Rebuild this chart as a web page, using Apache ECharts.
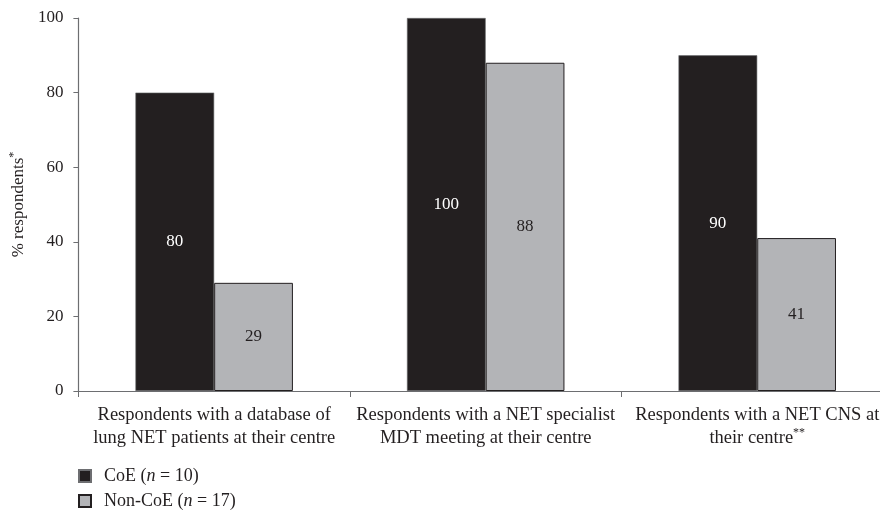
<!DOCTYPE html>
<html><head><meta charset="utf-8">
<script src="https://cdn.jsdelivr.net/npm/echarts@6/dist/echarts.min.js"></script>
<style>html,body{margin:0;padding:0;background:#fff;overflow:hidden;width:880px;height:513px}#c{width:893px;height:513px}</style>
</head><body><div id="c"></div>
<script>
const categories = [
  "Respondents with a database of\nlung NET patients at their centre",
  "Respondents with a NET specialist\nMDT meeting at their centre",
  "Respondents with a NET CNS at\ntheir centre{sup|**}"
];
const seriesNames = ["CoE (n = 10)", "Non-CoE (n = 17)"];
const coeValues = [80, 100, 90];
const nonCoeValues = [29, 88, 41];
const yTicks = [0, 20, 40, 60, 80, 100];

const FONT = '"Liberation Serif","DejaVu Serif",serif';
const TXT = '#231f20';
const AX = '#6d6e71';

const chart = echarts.init(document.getElementById('c'), null, {renderer: 'canvas'});
chart.setOption({
  animation: false,
  textStyle: {fontFamily: FONT, color: TXT},
  grid: {left: 78, right: 0, top: 18, bottom: 122, containLabel: false},
  legend: {
    orient: 'vertical', left: 78, top: 467, itemGap: 7, padding: 0,
    itemWidth: 12, itemHeight: 12, icon: 'rect',
    formatter: function (name) {
      const m = name.match(/^(.*\()n( = \d+\))$/);
      return '{a|' + m[1] + '}{i|n}{a|' + m[2] + '}';
    },
    textStyle: {
      fontFamily: FONT, color: TXT, fontSize: 18, padding: [0, 0, 0, 8],
      rich: {
        a: {fontFamily: FONT, color: TXT, fontSize: 18, lineHeight: 19},
        i: {fontFamily: FONT, color: TXT, fontSize: 18, lineHeight: 19, fontStyle: 'italic'}
      }
    }
  },
  xAxis: {
    type: 'category', data: categories,
    axisLine: {lineStyle: {color: AX, width: 1.2}},
    axisTick: {show: true, length: 6, lineStyle: {color: AX}},
    axisLabel: {
      interval: 0, margin: 13, fontFamily: FONT, color: TXT, fontSize: 18.5, lineHeight: 23,
      align: 'center',
      rich: {sup: {fontFamily: FONT, color: TXT, fontSize: 12, lineHeight: 23, verticalAlign: 'top', padding: [0, 0, 8, 0]}}
    }
  },
  yAxis: {
    type: 'value', min: 0, max: 100, interval: 20,
    name: '{a|% respondents}{s|*}', nameLocation: 'middle', nameGap: 42, nameRotate: 90,
    nameTextStyle: {
      fontFamily: FONT, color: TXT, fontSize: 17,
      rich: {
        a: {fontFamily: FONT, color: TXT, fontSize: 17},
        s: {fontFamily: FONT, color: TXT, fontSize: 12, padding: [0, 0, 9, 0]}
      }
    },
    axisLine: {show: true, lineStyle: {color: AX, width: 1.2}},
    axisTick: {show: true, length: 5, lineStyle: {color: AX}},
    splitLine: {show: false},
    axisLabel: {
      margin: 15, fontFamily: FONT, color: TXT, fontSize: 17,
      formatter: function (v) { return yTicks.indexOf(v) >= 0 ? String(v) : ''; }
    }
  },
  series: [
    {
      name: seriesNames[0], type: 'bar', data: coeValues,
      barGap: '0%', barCategoryGap: '42%',
      itemStyle: {color: '#231f20', borderColor: '#6d6e71', borderWidth: 0.6},
      label: {show: true, position: 'inside', color: '#ffffff', fontFamily: FONT, fontSize: 17}
    },
    {
      name: seriesNames[1], type: 'bar', data: nonCoeValues,
      barGap: '0%', barCategoryGap: '42%',
      itemStyle: {color: '#b3b4b7', borderColor: '#231f20', borderWidth: 1},
      label: {show: true, position: 'inside', color: TXT, fontFamily: FONT, fontSize: 17}
    }
  ]
});
</script></body></html>
